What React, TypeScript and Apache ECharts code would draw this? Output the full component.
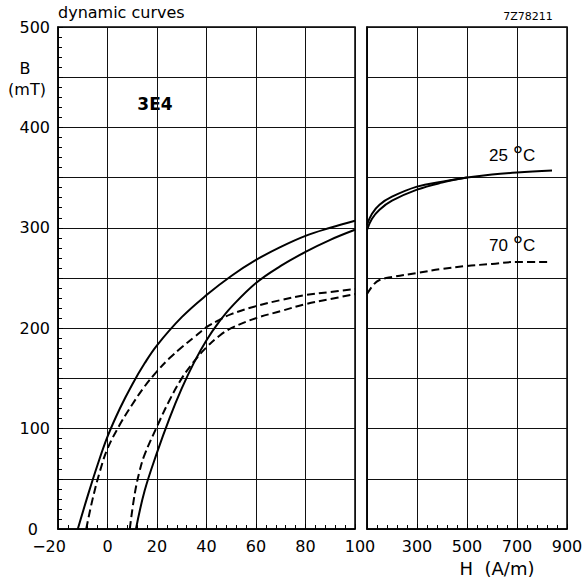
import React, { useEffect, useRef } from "react";
import * as echarts from "echarts";

// Left panel: H from -20 to 100 A/m
const leftXRange = [-20, 100];
const rightXRange = [100, 900];
const yRange = [0, 500];

// 25 °C loop (solid), left panel
const solid25Down: [number, number][] = [
  [-12, 0], [-8, 33], [-4, 64], [0, 92], [5, 120], [10, 144], [15, 165], [20, 183],
  [30, 211], [40, 233], [50, 252], [60, 268], [70, 281], [80, 292], [90, 300], [100, 307],
];
const solid25Up: [number, number][] = [
  [11.5, 0], [15, 38], [20, 76], [25, 110], [30, 140], [35, 166], [40, 188], [45, 206],
  [50, 221], [60, 245], [70, 262], [80, 276], [90, 288], [100, 298],
];
// 70 °C loop (dashed), left panel
const dashed70Down: [number, number][] = [
  [-8.6, 0], [-6, 30], [-3, 58], [0, 80], [5, 104], [10, 124], [15, 142], [20, 157],
  [25, 170], [30, 181], [35, 191], [40, 201], [45, 208], [50, 214], [60, 222],
  [70, 228], [80, 233], [90, 236], [100, 239],
];
const dashed70Up: [number, number][] = [
  [9, 0], [11, 35], [13, 58], [15, 74], [20, 102], [25, 128], [30, 150], [35, 167],
  [40, 181], [45, 192], [50, 200], [60, 210], [70, 217], [80, 224], [90, 229], [100, 234],
];
// Right panel: H from 100 to 900 A/m
const solid25RightA: [number, number][] = [
  [100, 303], [120, 314], [150, 323], [200, 331], [300, 341], [400, 346],
  [500, 350], [600, 353], [700, 355], [840, 357],
];
const solid25RightB: [number, number][] = [
  [100, 298], [120, 309], [150, 318], [200, 327], [300, 338], [400, 345], [500, 350],
];
const dashed70Right: [number, number][] = [
  [100, 234], [125, 243], [150, 248], [200, 251], [300, 255], [400, 259],
  [500, 262], [600, 264], [700, 266], [825, 266],
];

const FONT = "DejaVu Sans";

function lineSeries(data: [number, number][], idx: number, dashed: boolean) {
  return {
    type: "line",
    xAxisIndex: idx,
    yAxisIndex: idx,
    data,
    smooth: 0.4,
    showSymbol: false,
    symbol: "none",
    silent: true,
    clip: true,
    lineStyle: { color: "#000", width: 2, type: dashed ? [8, 4] : "solid" },
  };
}

const axisLineStyle = { show: true, onZero: false, lineStyle: { color: "#000", width: 1.5 } };
const splitLineStyle = { show: true, lineStyle: { color: "#111", width: 1 } };

export default function App() {
  const ref = useRef<HTMLDivElement>(null);
  useEffect(() => {
    if (!ref.current) return;
    const chart = echarts.init(ref.current, undefined, { renderer: "svg" });
    const option: any = {
      animation: false,
      backgroundColor: "#fff",
      grid: [
        { left: 58, top: 27, width: 297, height: 502, show: true, borderColor: "#000", borderWidth: 1.5, backgroundColor: "transparent" },
        { left: 367, top: 27, width: 200, height: 502, show: true, borderColor: "#000", borderWidth: 1.5, backgroundColor: "transparent" },
      ],
      xAxis: [
        {
          type: "value", gridIndex: 0, min: leftXRange[0], max: leftXRange[1], interval: 20,
          axisLine: axisLineStyle,
          axisTick: { show: true, inside: true, length: 5, lineStyle: { color: "#000", width: 1 } },
          minorTick: { show: true, splitNumber: 5, length: 4, lineStyle: { color: "#000", width: 1 } },
          splitLine: splitLineStyle,
          axisLabel: {
            margin: 9, color: "#000", fontSize: 16, fontFamily: FONT,
            formatter: (v: number) => (v === -20 ? "{m|\u221220}" : v === 100 ? "{r|100}" : String(v)),
            rich: {
              m: { fontSize: 16, fontFamily: FONT, color: "#000", padding: [0, 18, 0, 0] },
              r: { fontSize: 16, fontFamily: FONT, color: "#000", padding: [0, 0, 0, 10] },
            },
          },
        },
        {
          type: "value", gridIndex: 1, min: rightXRange[0], max: rightXRange[1], interval: 200,
          axisLine: axisLineStyle,
          axisTick: { show: true, inside: true, length: 5, lineStyle: { color: "#000", width: 1 } },
          minorTick: { show: true, splitNumber: 5, length: 4, lineStyle: { color: "#000", width: 1 } },
          splitLine: splitLineStyle,
          axisLabel: {
            margin: 9, color: "#000", fontSize: 16, fontFamily: FONT,
            formatter: (v: number) => (v === 100 ? "" : String(v)),
          },
        },
      ],
      yAxis: [
        {
          type: "value", gridIndex: 0, min: yRange[0], max: yRange[1], interval: 50,
          axisLine: axisLineStyle,
          axisTick: { show: true, inside: true, length: 5, lineStyle: { color: "#000", width: 1 } },
          minorTick: { show: true, splitNumber: 5, length: 4, lineStyle: { color: "#000", width: 1 } },
          splitLine: splitLineStyle,
          axisLabel: {
            margin: 8, color: "#000", fontSize: 16, fontFamily: FONT,
            formatter: (v: number) => (v % 100 !== 0 ? "" : v === 0 ? "{z|0}" : String(v)),
            rich: { z: { fontSize: 16, fontFamily: FONT, color: "#000", padding: [0, 12, 0, 0] } },
          },
        },
        {
          type: "value", gridIndex: 1, min: yRange[0], max: yRange[1], interval: 50,
          axisLine: axisLineStyle,
          axisTick: { show: false },
          splitLine: splitLineStyle,
          axisLabel: { show: false },
        },
      ],
      series: [
        lineSeries(solid25Down, 0, false),
        lineSeries(solid25Up, 0, false),
        lineSeries(dashed70Down, 0, true),
        lineSeries(dashed70Up, 0, true),
        lineSeries(solid25RightA, 1, false),
        lineSeries(solid25RightB, 1, false),
        lineSeries(dashed70Right, 1, true),
      ],
      graphic: [
        { type: "text", x: 58, y: 12, style: { text: "dynamic curves", fill: "#000", fontSize: 16, fontFamily: FONT, align: "left", verticalAlign: "middle" } },
        { type: "text", x: 528, y: 16, style: { text: "7Z78211", fill: "#000", fontSize: 11, fontFamily: FONT, align: "center", verticalAlign: "middle" } },
        { type: "text", x: 25, y: 68, style: { text: "B", fill: "#000", fontSize: 16, fontFamily: FONT, align: "center", verticalAlign: "middle" } },
        { type: "text", x: 27, y: 89, style: { text: "(mT)", fill: "#000", fontSize: 16, fontFamily: FONT, align: "center", verticalAlign: "middle" } },
        { type: "text", x: 155, y: 104, style: { text: "3E4", fill: "#000", fontSize: 17, fontWeight: "bold", fontFamily: FONT, align: "center", verticalAlign: "middle" } },
        {
          type: "text", x: 489, y: 155,
          style: {
            text: "{a|25 }{b|°}{a|C}", align: "left", verticalAlign: "middle",
            rich: {
              a: { fontSize: 17, fontFamily: "Liberation Sans", fill: "#000", color: "#000" },
              b: { fontSize: 26, fontFamily: "Liberation Sans", fill: "#000", color: "#000" },
            },
          },
        },
        {
          type: "text", x: 489, y: 245,
          style: {
            text: "{a|70 }{b|°}{a|C}", align: "left", verticalAlign: "middle",
            rich: {
              a: { fontSize: 17, fontFamily: "Liberation Sans", fill: "#000", color: "#000" },
              b: { fontSize: 26, fontFamily: "Liberation Sans", fill: "#000", color: "#000" },
            },
          },
        },
        { type: "text", x: 497, y: 568, style: { text: "H  (A/m)", fill: "#000", fontSize: 18, fontFamily: FONT, align: "center", verticalAlign: "middle" } },
      ],
    };
    chart.setOption(option);
    return () => chart.dispose();
  }, []);
  return <div ref={ref} style={{ position: "fixed", left: 0, top: 0, width: 586, height: 585, background: "#fff" }} />;
}
